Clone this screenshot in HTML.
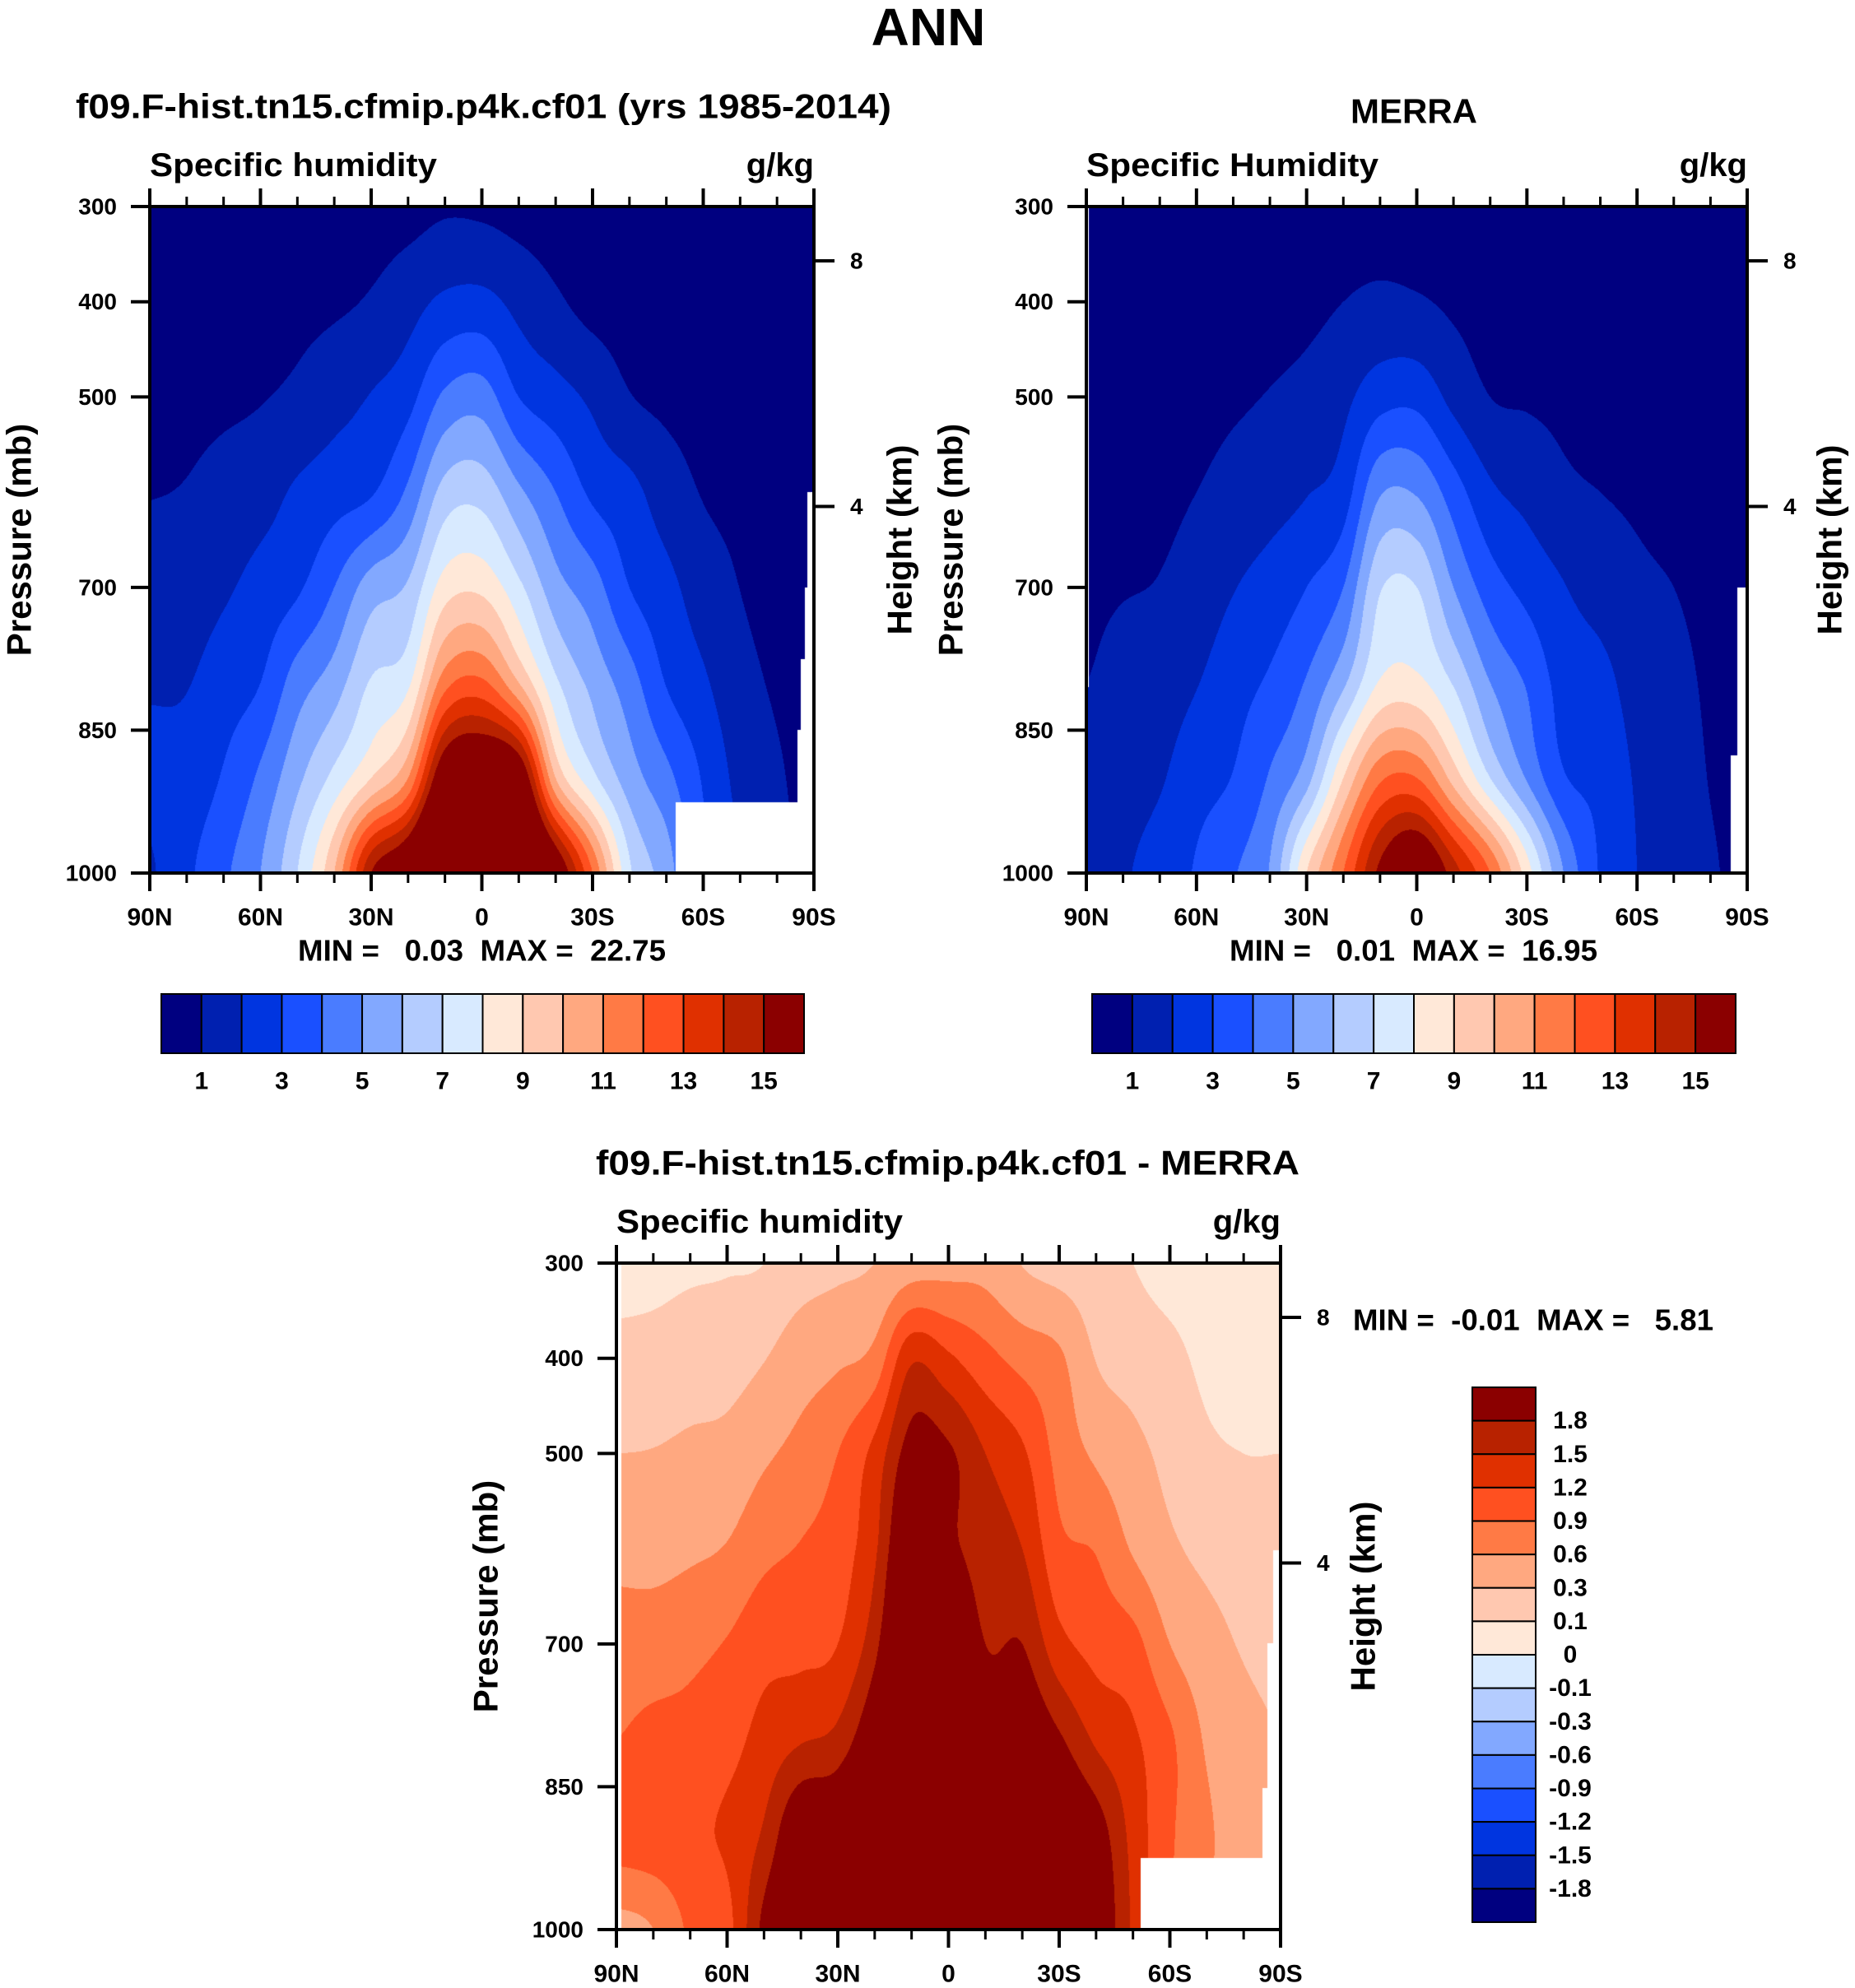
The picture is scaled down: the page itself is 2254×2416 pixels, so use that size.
<!DOCTYPE html>
<html><head><meta charset="utf-8">
<style>
html,body{margin:0;padding:0;background:#fff;}
#root{position:relative;width:2254px;height:2416px;overflow:hidden;background:#fff;}
canvas{position:absolute;}
svg{position:absolute;left:0;top:0;}
text{font-family:"Liberation Sans",sans-serif;font-weight:bold;fill:#000;white-space:pre;}
</style></head>
<body>
<div id="root">
<canvas id="c1" width="807" height="810" style="left:182px;top:251px"></canvas>
<canvas id="c2" width="803" height="810" style="left:1320px;top:251px"></canvas>
<canvas id="c3" width="807" height="810" style="left:749px;top:1535px"></canvas>
<svg id="ov" width="2254" height="2416"></svg>
</div>
<script>
// ---- data (lat 90N..90S step 10, pressure 300..1000 step 100) ----
const lats=[90,80,70,60,50,40,30,20,10,0,-10,-20,-30,-40,-50,-60,-70,-80,-90];
const plevs=[300,400,500,600,700,800,900,1000];
const modelQ=[
[.3,.5,.75,.97,1.4,1.9,2.2,1.9],
[.3,.55,.8,1.05,1.5,1.95,2.4,2.8],
[.35,.6,.85,1.3,1.85,2.5,3.1,3.8],
[.4,.65,.95,1.6,2.35,3.0,4.2,5.0],
[.45,.75,1.2,2.15,2.85,4.5,5.75,7.0],
[.5,.85,1.65,2.55,4.0,5.5,7.3,10.0],
[.6,1.1,2.05,2.9,5.5,7.1,9.0,15.0],
[.7,1.6,2.65,4.2,6.15,7.8,11.0,17.0],
[.9,2.2,4.2,6.4,8.5,11.6,16.5,21.0],
[.85,2.3,4.5,6.6,8.75,12.2,17.5,22.0],
[.7,1.7,3.0,5.2,7.25,10.0,16.5,20.0],
[.6,1.15,2.4,4.0,5.4,7.2,10.0,16.5],
[.5,.7,1.8,2.8,4.45,5.7,7.3,12.0],
[.4,.6,1.05,2.3,3.0,4.45,5.5,7.2],
[.35,.55,.8,1.5,2.3,2.95,4.3,5.5],
[.3,.45,.7,.95,1.5,2.15,2.9,3.2],
[.25,.4,.6,.8,.99,1.3,1.7,2.0],
[.2,.3,.45,.6,.75,.9,1.1,1.2],
[.2,.3,.4,.5,.6,.7,.8,.9]];
const merraQ=[
[.15,.25,.45,.65,.85,1.0,1.3,1.6],
[.15,.3,.5,.7,.95,1.3,1.6,1.9],
[.2,.35,.55,.8,1.05,1.5,1.9,2.4],
[.25,.4,.65,1.0,1.4,1.95,2.6,3.1],
[.3,.5,.85,1.35,1.95,2.6,3.05,3.9],
[.35,.6,1.05,1.6,2.4,3.15,4.1,5.1],
[.45,.75,1.3,1.95,3.0,4.1,5.6,9.0],
[.55,1.0,1.75,2.5,4.0,5.8,9.0,12.0],
[.6,1.2,2.6,4.9,6.9,8.1,11.8,15.3],
[.6,1.1,2.7,4.9,7.0,8.25,12.0,16.9],
[.5,.85,1.7,3.5,5.0,6.9,9.6,14.5],
[.45,.7,1.0,2.2,3.5,5.0,7.0,12.0],
[.35,.6,.9,1.7,2.7,3.9,4.9,8.5],
[.3,.5,.8,1.2,2.05,2.6,3.1,5.0],
[.25,.4,.65,1.0,1.6,2.3,2.7,2.9],
[.2,.35,.55,.85,1.2,1.6,1.9,2.0],
[.2,.3,.5,.7,1.0,1.3,1.5,1.6],
[.15,.25,.4,.55,.7,.85,.96,1.1],
[.1,.2,.3,.4,.5,.6,.7,.8]];
const diffQ=[
[.05,.15,.3,.5,.75,.9,1.05,.5],
[.06,.16,.31,.5,.75,.98,1.1,.6],
[.08,.19,.35,.55,.82,1.0,1.15,.95],
[.09,.2,.39,.62,.92,1.1,1.25,1.1],
[.1,.29,.55,.82,1.1,1.3,1.55,1.9],
[.2,.45,.7,.92,1.12,1.47,2.2,2.5],
[.25,.55,.9,1.05,1.2,1.6,2.3,2.8],
[.3,.7,1.3,1.45,1.7,2.2,2.8,3.2],
[.45,1.45,1.95,2.3,2.7,3.2,3.8,4.2],
[.5,1.25,1.85,1.9,2.4,3.2,4.0,4.5],
[.5,1.0,1.5,1.65,1.8,2.2,2.9,3.6],
[.29,.8,1.25,1.5,1.8,2.2,2.8,3.3],
[.2,.65,.8,.98,1.3,1.85,2.4,2.8],
[.15,.29,.55,.88,1.1,1.45,2.0,2.2],
[.1,.2,.38,.57,1.0,1.25,1.4,1.45],
[.05,.14,.23,.35,.6,.95,.95,.9],
[.03,.07,.13,.24,.4,.56,.65,.6],
[.03,.06,.1,.2,.28,.38,.45,.45],
[.03,.06,.1,.18,.25,.3,.35,.35]];
const qLevels=[1,2,3,4,5,6,7,8,9,10,11,12,13,14,15];
const qTickLabels=['1','3','5','7','9','11','13','15'];
const dLevels=[-1.8,-1.5,-1.2,-0.9,-0.6,-0.3,-0.1,0,0.1,0.3,0.6,0.9,1.2,1.5,1.8];
const dTickLabels=['-1.8','-1.5','-1.2','-0.9','-0.6','-0.3','-0.1','0','0.1','0.3','0.6','0.9','1.2','1.5','1.8'];
const palette=['#000080','#0020b0','#0035e0','#1a50ff','#4a7cff','#82a8ff','#b4ccff','#d8eaff','#ffe8d8','#ffc8b0','#ffa880','#ff7a45','#ff5020','#e03000','#b82200','#8b0000'];
const modelMask=[[-52.6,926],[-85.5,850],[-86.5,775],[-87.5,700],[-88.3,600]];
const merraMask=[[-85.5,876],[-87.2,700]];
const diffMask=[[-52,925],[-85,851],[-86.5,699],[-88,602]];
const pTicks=[300,400,500,700,850,1000];
const latTicks=[90,60,30,0,-30,-60,-90];
const latLabels=['90N','60N','30N','0','30S','60S','90S'];
const hTicks=[8,4];
const hFrac=[0.0815,0.45];

function cr(p0,p1,p2,p3,t){return 0.5*((2*p1)+(-p0+p2)*t+(2*p0-5*p1+4*p2-p3)*t*t+(-p0+3*p1-3*p2+p3)*t*t*t);}
function sample(g,lat,p){
  const fi=(90-lat)/10, fj=(p-300)/100;
  const i=Math.min(Math.floor(fi),17), j=Math.min(Math.floor(fj),6);
  const ti=fi-i, tj=fj-j;
  const row=k=>{const r=g[Math.max(0,Math.min(18,k))];
    const a=r[Math.max(0,j-1)],b=r[j],c=r[j+1],d=r[Math.min(7,j+2)];return cr(a,b,c,d,tj);};
  return cr(row(i-1),row(i),row(i+1),row(i+2),ti);
}
function hex(h){return [parseInt(h.slice(1,3),16),parseInt(h.slice(3,5),16),parseInt(h.slice(5,7),16)];}
const pal=palette.map(hex);
function render(id,grid,levels,mask,extra){
  const c=document.getElementById(id),ctx=c.getContext('2d'),w=c.width,h=c.height;
  const im=ctx.createImageData(w,h),d=im.data;
  for(let y=0;y<h;y++){const p=300+(y+0.5)/h*700;
    for(let x=0;x<w;x++){const lat=90-(x+0.5)/w*180;let k=(y*w+x)*4;
      let white=false;for(const m of mask){if(lat<m[0]&&p>m[1])white=true;}
      if(extra&&extra(lat,p))white=true;
      if(white){d[k]=d[k+1]=d[k+2]=255;d[k+3]=255;continue;}
      const v=sample(grid,lat,p);let idx=0;for(const L of levels){if(v>=L)idx++;}
      const col=pal[idx];d[k]=col[0];d[k+1]=col[1];d[k+2]=col[2];d[k+3]=255;}}
  ctx.putImageData(im,0,0);
}
render('c1',modelQ,qLevels,modelMask);
render('c2',merraQ,qLevels,merraMask,(lat,p)=>lat>89.4&&p<805);
render('c3',diffQ,dLevels,diffMask,(lat,p)=>lat>88.6);

const NS='http://www.w3.org/2000/svg',ov=document.getElementById('ov');
function el(tag,attrs,txt){const e=document.createElementNS(NS,tag);for(const k in attrs)e.setAttribute(k,attrs[k]);if(txt!==undefined)e.textContent=txt;ov.appendChild(e);return e;}
function line(x1,y1,x2,y2,w){return el('line',{x1,y1,x2,y2,stroke:'#000','stroke-width':w});}
function txt(x,y,s,size,anchor,name,extra){const a={x,y,'font-size':size,'text-anchor':anchor||'start','dominant-baseline':'central'};if(extra)Object.assign(a,extra);const t=el('text',a,s);

return t;}

function panel(P,tag,titleS,leftT,rightT,leftX,rightX){
  const X=lat=>P.x0+(90-lat)/180*(P.x1-P.x0), Y=p=>P.y0+(p-300)/700*(P.y1-P.y0);
  const r=el('rect',{x:P.x0,y:P.y0,width:P.x1-P.x0,height:P.y1-P.y0,fill:'none',stroke:'#000','stroke-width':4});
  
  
  for(let lat=90;lat>=-90;lat-=10){const x=X(lat),maj=lat%30===0,len=maj?22:12;
    const t1=line(x,P.y0,x,P.y0-len,maj?4:3);
    
    
    const t2=line(x,P.y1,x,P.y1+len,maj?4:3);
    
    }
  latTicks.forEach((lat,i)=>txt(X(lat),P.y1+54,latLabels[i],30,'middle',tag+'-x-tick-label'));
  pTicks.forEach(p=>{const t=line(P.x0,Y(p),P.x0-23,Y(p),4);
    
    
    txt(P.x0-40,Y(p),String(p),28,'end',tag+'-y-tick-label');});
  hTicks.forEach((h,i)=>{const y=P.y0+hFrac[i]*(P.y1-P.y0);const t=line(P.x1,y,P.x1+25,y,4);
    
    
    txt(P.x1+44,y,String(h),28,'start',tag+'-height-tick-label');});
  txt(P.x0,P.y0-50,leftT,40,'start',tag+'-variable-label',{textLength:titleS,lengthAdjust:'spacingAndGlyphs'});
  txt(P.x1,P.y0-50,'g/kg',40,'end',tag+'-units-label');
  const cy=(P.y0+P.y1)/2;
  txt(leftX,cy,'Pressure (mb)',42,'middle',tag+'-y-axis-title',{transform:`rotate(-90 ${leftX} ${cy})`});
  txt(rightX,cy,'Height (km)',42,'middle',tag+'-height-axis-title',{transform:`rotate(-90 ${rightX} ${cy})`});
}
const P1={x0:182,x1:989,y0:251,y1:1061},P2={x0:1320,x1:2123,y0:251,y1:1061},P3={x0:749,x1:1556,y0:1535,y1:2345};
panel(P1,'model',349,'Specific humidity','g/kg',23,1093);
panel(P2,'merra',355,'Specific Humidity','g/kg',1155,2223);
panel(P3,'diff',348,'Specific humidity','g/kg',590,1656);

txt(1128,33,'ANN',64,'middle','figure-title');
txt(92,129,'f09.F-hist.tn15.cfmip.p4k.cf01 (yrs 1985-2014)',42,'start','model-title',{textLength:991,lengthAdjust:'spacingAndGlyphs'});
txt(1718,135,'MERRA',42,'middle','merra-title');
txt(724,1413,'f09.F-hist.tn15.cfmip.p4k.cf01 - MERRA',42,'start','diff-title',{textLength:855,lengthAdjust:'spacingAndGlyphs'});
txt(362,1155,'MIN =   0.03  MAX =  22.75',36,'start','model-min-max',{textLength:447,lengthAdjust:'spacingAndGlyphs'});
txt(1494,1155,'MIN =   0.01  MAX =  16.95',36,'start','merra-min-max',{textLength:447,lengthAdjust:'spacingAndGlyphs'});
txt(1644,1604,'MIN =  -0.01  MAX =   5.81',36,'start','diff-min-max',{textLength:438,lengthAdjust:'spacingAndGlyphs'});

function hbar(x0,x1,y0,y1,tag){const w=(x1-x0)/16;
  palette.forEach((c,i)=>{const r=el('rect',{x:x0+i*w,y:y0,width:w,height:y1-y0,fill:c,stroke:'#000','stroke-width':2});
    
    });
  qTickLabels.forEach((s,i)=>txt(x0+(2*i+1)*w,1314,s,30,'middle',tag+'-colorbar-label'));}
hbar(196,977,1208,1280,'model');
hbar(1327,2109,1208,1280,'merra');
(function(){const x0=1789,x1=1866,y0=1686,y1=2336,h=(y1-y0)/16;
  palette.slice().reverse().forEach((c,i)=>{const r=el('rect',{x:x0,y:y0+i*h,width:x1-x0,height:h,fill:c,stroke:'#000','stroke-width':2});
    
    });
  dTickLabels.slice().reverse().forEach((s,i)=>txt(1908,y0+(i+1)*h,s,30,'middle','diff-colorbar-label'));})();
</script>
</body></html>
